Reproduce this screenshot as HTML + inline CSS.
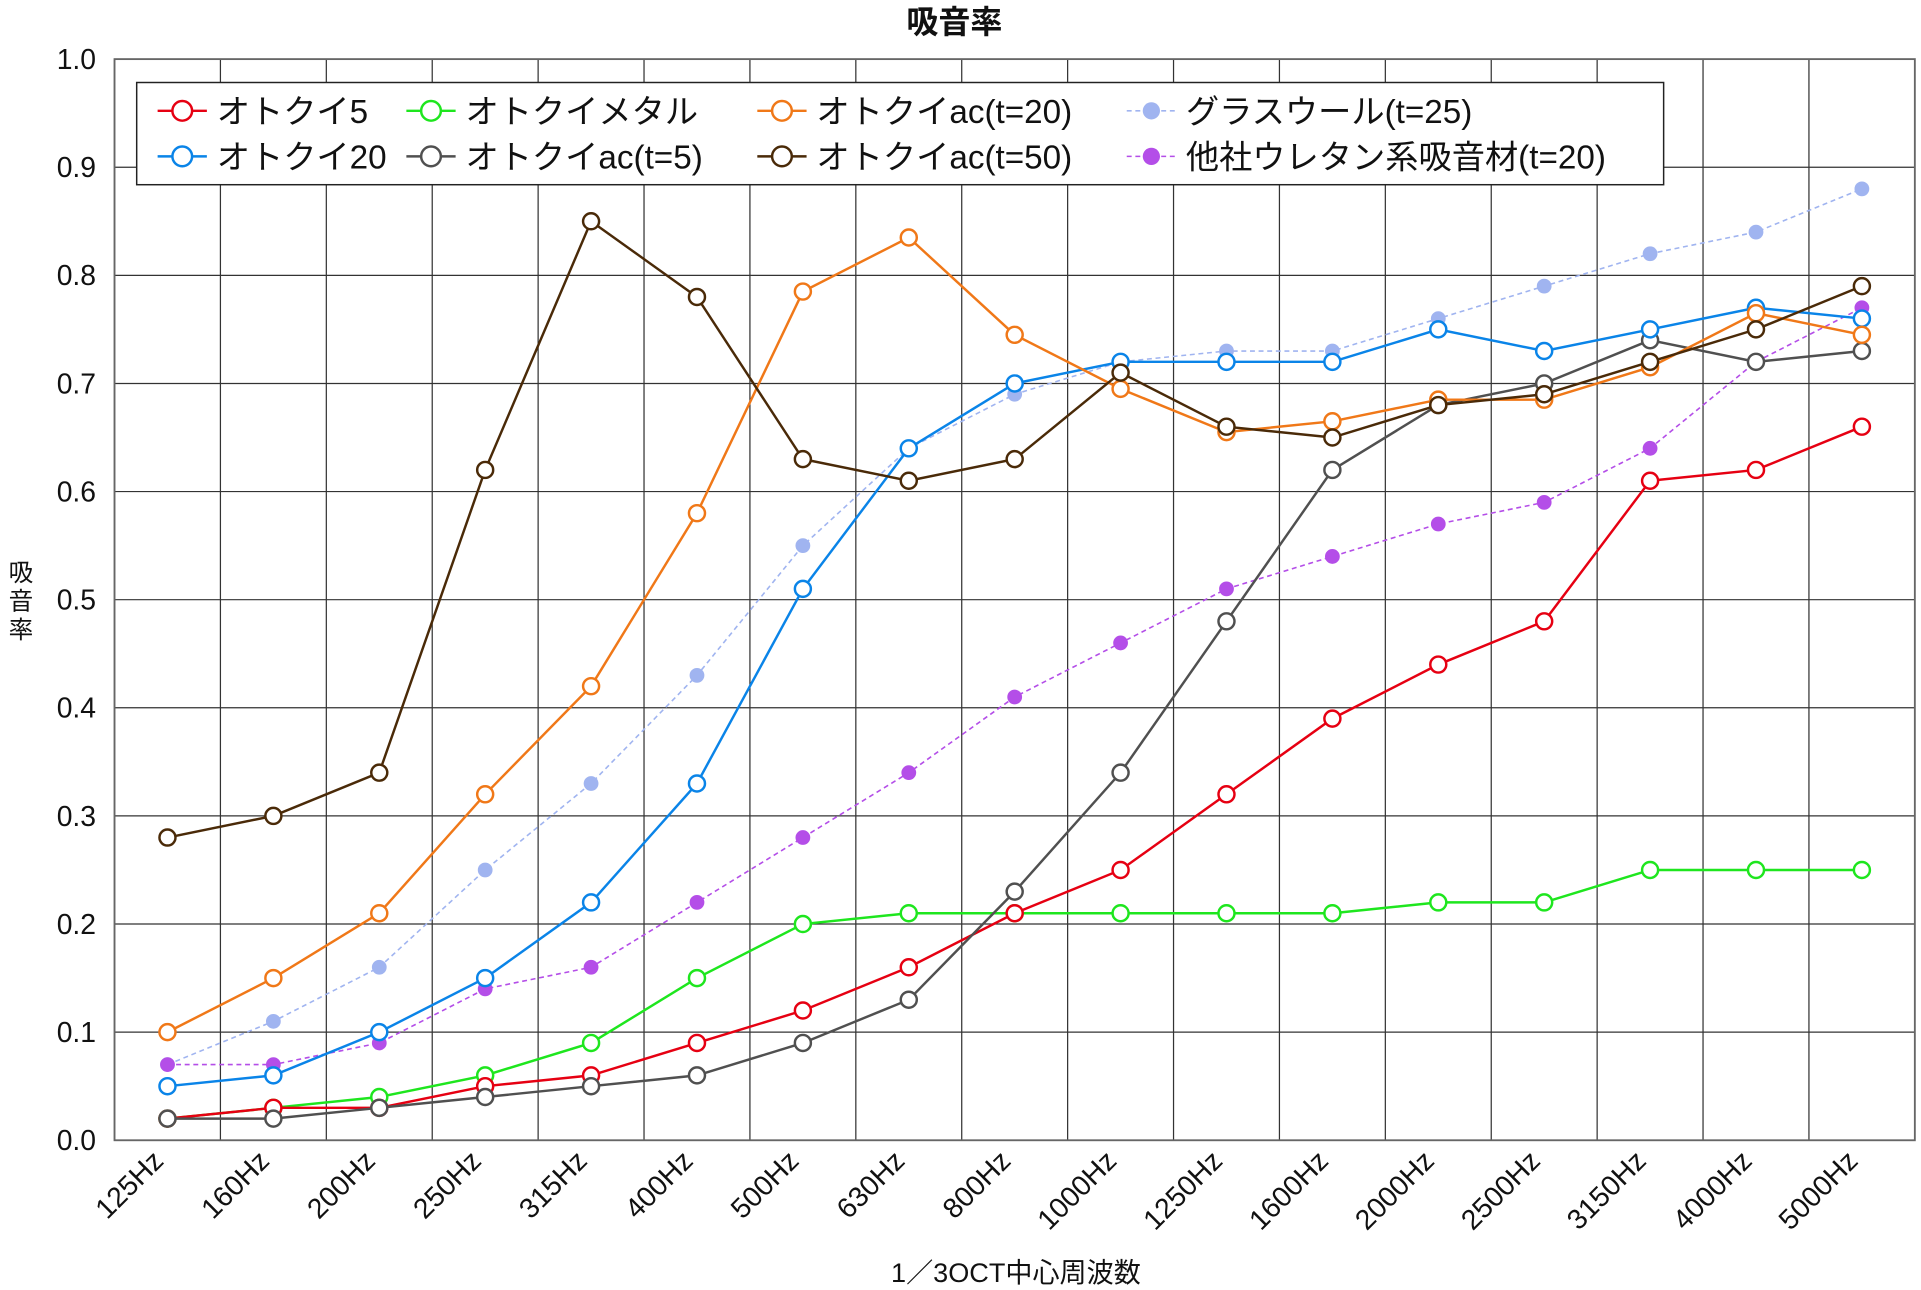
<!DOCTYPE html>
<html><head><meta charset="utf-8"><style>
html,body{margin:0;padding:0;background:#fff;}
svg{display:block;}
text{font-family:"Liberation Sans","Noto Sans CJK JP",sans-serif;fill:#111;}
</style></head><body>
<svg id="s" width="1921" height="1290" viewBox="0 0 1560 1047.6" preserveAspectRatio="none" xmlns="http://www.w3.org/2000/svg"></svg>
<script>
const s=document.getElementById('s');let h='';
const L=93,R=1555,T=48,B=926;
const X=i=>136+86*i, Y=v=>B-(v*(B-T));
h+=`<text x="775" y="27" font-size="26" font-weight="bold" text-anchor="middle">吸音率</text>`;
for(let i=0;i<=17;i++){const x=L+86*i;h+=`<line x1="${x}" y1="${T}" x2="${x}" y2="${B}" stroke="#333" stroke-width="1"/>`;}
for(let k=0;k<=10;k++){const y=Y(k/10);h+=`<line x1="${L}" y1="${y}" x2="${R}" y2="${y}" stroke="#333" stroke-width="1"/>`;
h+=`<text x="78" y="${y+8}" font-size="23" text-anchor="end">${(k/10).toFixed(1)}</text>`;}
h+=`<rect x="${L}" y="${T}" width="${R-L}" height="${B-T}" fill="none" stroke="#666" stroke-width="1.5"/>`;
const labs=["125Hz","160Hz","200Hz","250Hz","315Hz","400Hz","500Hz","630Hz","800Hz","1000Hz","1250Hz","1600Hz","2000Hz","2500Hz","3150Hz","4000Hz","5000Hz"];
labs.forEach((t,i)=>{const x=X(i)-2,y=944;h+=`<text x="${x}" y="${y}" font-size="23" text-anchor="end" transform="rotate(-45 ${x} ${y})">${t}</text>`;});
h+=`<text x="825" y="1041" font-size="22" text-anchor="middle">1／3OCT中心周波数</text>`;
h+=`<text x="17" y="472" font-size="20" text-anchor="middle">吸</text><text x="17" y="495" font-size="20" text-anchor="middle">音</text><text x="17" y="518" font-size="20" text-anchor="middle">率</text>`;
const S=[
["オトクイ5","#e60012",0,[.02,.03,.03,.05,.06,.09,.12,.16,.21,.25,.32,.39,.44,.48,.61,.62,.66]],
["オトクイ20","#0a84e8",0,[.05,.06,.10,.15,.22,.33,.51,.64,.70,.72,.72,.72,.75,.73,.75,.77,.76]],
["オトクイメタル","#1ee61e",0,[.02,.03,.04,.06,.09,.15,.20,.21,.21,.21,.21,.21,.22,.22,.25,.25,.25]],
["オトクイac(t=5)","#505050",0,[.02,.02,.03,.04,.05,.06,.09,.13,.23,.34,.48,.62,.68,.70,.74,.72,.73]],
["オトクイac(t=20)","#f07818",0,[.10,.15,.21,.32,.42,.58,.785,.835,.745,.695,.655,.665,.685,.685,.715,.765,.745]],
["オトクイac(t=50)","#4a2a08",0,[.28,.30,.34,.62,.85,.78,.63,.61,.63,.71,.66,.65,.68,.69,.72,.75,.79]],
["グラスウール(t=25)","#a0b4f0",1,[.07,.11,.16,.25,.33,.43,.55,.64,.69,.72,.73,.73,.76,.79,.82,.84,.88]],
["他社ウレタン系吸音材(t=20)","#b44ee8",1,[.07,.07,.09,.14,.16,.22,.28,.34,.41,.46,.51,.54,.57,.59,.64,.72,.77]]];
const order=[6,7,2,0,3,1,4,5];
order.forEach(k=>{const [n,c,d,v]=S[k];const p=v.map((a,i)=>X(i)+','+Y(a)).join(' ');
h+=`<polyline points="${p}" fill="none" stroke="${c}" stroke-width="${d?1.3:2}" ${d?'stroke-dasharray="4,3"':''}/>`;
v.forEach((a,i)=>{h+=d?`<circle cx="${X(i)}" cy="${Y(a)}" r="6" fill="${c}"/>`:`<circle cx="${X(i)}" cy="${Y(a)}" r="6.5" fill="#fff" stroke="${c}" stroke-width="2"/>`;});});
h+=`<rect x="111" y="67" width="1240" height="83" fill="#fff" stroke="#222" stroke-width="1.2"/>`;
const pos=[[0,128,90],[1,128,127],[2,330,90],[3,330,127],[4,615,90],[5,615,127],[6,915,90],[7,915,127]];
pos.forEach(([k,x,y])=>{const [n,c,d]=S[k];
h+=`<line x1="${x}" y1="${y}" x2="${x+40}" y2="${y}" stroke="${c}" stroke-width="${d?1.3:2}" ${d?'stroke-dasharray="4,3"':''}/>`;
h+=d?`<circle cx="${x+20}" cy="${y}" r="7" fill="${c}"/>`:`<circle cx="${x+20}" cy="${y}" r="8" fill="#fff" stroke="${c}" stroke-width="2"/>`;
h+=`<text x="${x+48}" y="${y+10}" font-size="27">${n}</text>`;});
s.innerHTML=h;
</script>
</body></html>
